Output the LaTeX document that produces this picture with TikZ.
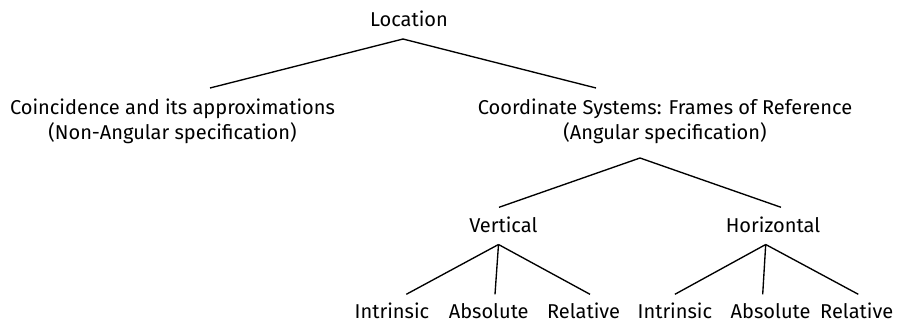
\documentclass[tikz,border=0pt]{standalone}
\usepackage{fontspec}
\setmainfont{Fira Sans}
\newlength\coinwd
\settowidth\coinwd{\fontsize{18.6}{24}\selectfont Coincidence and its approximations}
\pgfmathsetmacro\lblsize{18.6*325/\coinwd}
\begin{document}
\begin{tikzpicture}[x=1pt,y=-1pt,
  lbl/.style={inner sep=0pt, anchor=base, font=\fontsize{\lblsize}{25}\selectfont, align=center},
  edge/.style={line width=1.35pt, black}]
\useasboundingbox (0,0) rectangle (904,323);
% nodes
\node[lbl] (loc) at (409,27) {Location};
\node[lbl] (coin) at (172.5,140) {Coincidence and its approximations\\(Non-Angular specification)};
\node[lbl] (coord) at (665,140) {Coordinate Systems: Frames of Reference\\(Angular specification)};
\node[lbl] (vert) at (503.3,232.3) {Vertical};
\node[lbl] (hor) at (773,232.3) {Horizontal};
\node[lbl] (vi) at (392,318.3) {Intrinsic};
\node[lbl] (va) at (488.7,318.3) {Absolute};
\node[lbl] (vr) at (583.6,318.3) {Relative};
\node[lbl] (hi) at (674.9,318.3) {Intrinsic};
\node[lbl] (ha) at (770.6,318.3) {Absolute};
\node[lbl] (hr) at (856.7,318.3) {Relative};
% connector points
\coordinate (locB) at (403,39);
\coordinate (coinT) at (210,88);
\coordinate (coordT) at (596,88);
\coordinate (coordB) at (640,158);
\coordinate (vertT) at (499,207.3);
\coordinate (horT) at (781,207.3);
\coordinate (vertB) at (498.5,244.5);
\coordinate (horB) at (765.7,244.5);
\coordinate (viT) at (406.3,294.3);
\coordinate (vaT) at (495,294.3);
\coordinate (vrT) at (590,294.3);
\coordinate (hiT) at (674.9,294.3);
\coordinate (haT) at (762.7,294.3);
\coordinate (hrT) at (858.3,294.3);
% connectors
\draw[edge] (coinT) -- (locB) -- (coordT);
\draw[edge] (vertT) -- (coordB) -- (horT);
\draw[edge] (vertB) -- (viT);
\draw[edge] (vertB) -- (vaT);
\draw[edge] (vertB) -- (vrT);
\draw[edge] (horB) -- (hiT);
\draw[edge] (horB) -- (haT);
\draw[edge] (horB) -- (hrT);
\end{tikzpicture}
\end{document}
